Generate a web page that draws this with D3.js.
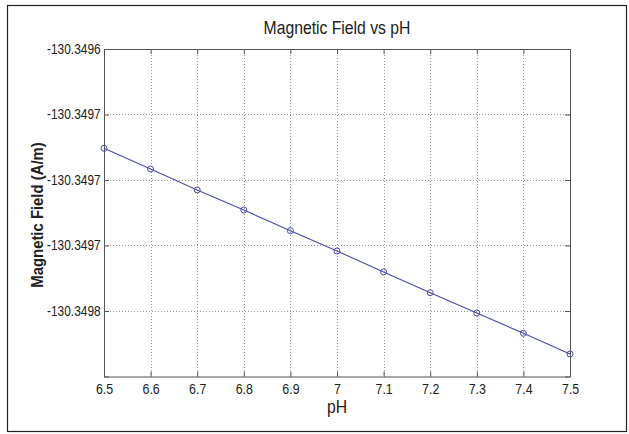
<!DOCTYPE html>
<html>
<head>
<meta charset="utf-8">
<script src="https://cdn.jsdelivr.net/npm/d3@7/dist/d3.min.js"></script>
<style>
  html, body { margin: 0; padding: 0; background: #fff; }
  svg { display: block; font-family: "Liberation Sans", Arial, sans-serif; }
</style>
</head>
<body>
<svg id="chart" width="629" height="434"></svg>
<script>
// pH sweep and the corresponding magnetic field (A/m)
const phValues = [6.5, 6.6, 6.7, 6.8, 6.9, 7.0, 7.1, 7.2, 7.3, 7.4, 7.5];
const fieldValues = [
  -130.3496758, -130.3496916, -130.3497076, -130.3497229, -130.3497387,
  -130.3497542, -130.3497702, -130.3497860, -130.3498015, -130.3498170,
  -130.3498328
];
const xTickValues = [6.5, 6.6, 6.7, 6.8, 6.9, 7.0, 7.1, 7.2, 7.3, 7.4, 7.5];
const xTickLabels = ["6.5", "6.6", "6.7", "6.8", "6.9", "7", "7.1", "7.2", "7.3", "7.4", "7.5"];
const yTickValues = [-130.34960, -130.34965, -130.34970, -130.34975, -130.34980, -130.34985];
const yTickLabels = ["-130.3496", "-130.3497", "-130.3497", "-130.3497", "-130.3498", ""];
const xDomain = [6.5, 7.5];
const yDomain = [-130.34985, -130.34960];

const svg = d3.select("#chart");
const W = 629, H = 434;
const plot = { left: 104, right: 570, top: 49, bottom: 376.5 };

svg.append("rect").attr("width", W).attr("height", H).attr("fill", "#fff");

// figure frame
svg.append("rect")
  .attr("x", 7.5).attr("y", 5.5).attr("width", 619).attr("height", 426)
  .attr("fill", "none").attr("stroke", "#222").attr("stroke-width", 1.2);

const x = d3.scaleLinear().domain(xDomain).range([plot.left, plot.right]);
const y = d3.scaleLinear().domain(yDomain).range([plot.bottom, plot.top]);

const gridColor = "#9a9a9a";
const axisColor = "#555";
const textColor = "#222";

// dotted grid
const grid = svg.append("g");
grid.selectAll(".gx").data(xTickValues.slice(1, -1)).join("line")
  .attr("x1", d => Math.round(x(d)) + 0.5).attr("x2", d => Math.round(x(d)) + 0.5)
  .attr("y1", plot.top).attr("y2", plot.bottom)
  .attr("stroke", gridColor).attr("stroke-width", 1).attr("stroke-dasharray", "1,2");
grid.selectAll(".gy").data(yTickValues.slice(1, -1)).join("line")
  .attr("y1", d => Math.round(y(d)) + 0.5).attr("y2", d => Math.round(y(d)) + 0.5)
  .attr("x1", plot.left).attr("x2", plot.right)
  .attr("stroke", gridColor).attr("stroke-width", 1).attr("stroke-dasharray", "1,2");

// axes with inward ticks (bottom/left labelled, top/right mirrored)
const fmtX = d => xTickLabels[xTickValues.indexOf(d)];
const fmtY = d => yTickLabels[yTickValues.indexOf(d)];

// condensed tick lettering
function styleAxis(size, squeeze) {
  return g => {
    g.select(".domain").attr("stroke", axisColor).attr("fill", "none");
    g.selectAll(".tick line").attr("stroke", axisColor);
    g.selectAll(".tick text").attr("fill", textColor).attr("font-size", size)
      .attr("transform", `scale(${squeeze},1)`);
  };
}

svg.append("g").attr("transform", `translate(0,${plot.bottom})`)
  .call(d3.axisBottom(x).tickValues(xTickValues).tickFormat(fmtX).tickSizeInner(-5).tickSizeOuter(0).tickPadding(7))
  .call(styleAxis(15.5, 0.8));
svg.append("g").attr("transform", `translate(0,${plot.top})`)
  .call(d3.axisTop(x).tickValues(xTickValues).tickFormat("").tickSizeInner(-5).tickSizeOuter(0))
  .call(styleAxis(14, 1));
svg.append("g").attr("transform", `translate(${plot.left},0)`)
  .call(d3.axisLeft(y).tickValues(yTickValues).tickFormat(fmtY).tickSizeInner(-5).tickSizeOuter(0).tickPadding(4))
  .call(styleAxis(14, 0.85));
svg.append("g").attr("transform", `translate(${plot.right},0)`)
  .call(d3.axisRight(y).tickValues(yTickValues).tickFormat("").tickSizeInner(-5).tickSizeOuter(0))
  .call(styleAxis(14, 1));

// data line and markers
const lineColor = "#4b4bb0";
const pts = phValues.map((p, i) => [p, fieldValues[i]]);
svg.append("path")
  .datum(pts)
  .attr("fill", "none").attr("stroke", lineColor).attr("stroke-width", 1.1)
  .attr("d", d3.line().x(d => x(d[0])).y(d => y(d[1])));
svg.append("g").selectAll("circle").data(pts).join("circle")
  .attr("cx", d => x(d[0])).attr("cy", d => y(d[1])).attr("r", 3)
  .attr("fill", "none").attr("stroke", lineColor).attr("stroke-width", 1);

// title and axis labels
const cx = (plot.left + plot.right) / 2;
svg.append("text")
  .attr("transform", `translate(${cx},34) scale(0.9,1)`)
  .attr("text-anchor", "middle").attr("font-size", 17.5).attr("fill", textColor)
  .text("Magnetic Field vs pH");
svg.append("text")
  .attr("transform", `translate(${cx},413) scale(0.9,1)`)
  .attr("text-anchor", "middle").attr("font-size", 17.5).attr("fill", textColor)
  .text("pH");
svg.append("text")
  .attr("transform", `translate(43,215) rotate(-90) scale(0.93,1)`)
  .attr("text-anchor", "middle").attr("font-size", 16).attr("font-weight", "bold").attr("fill", textColor)
  .text("Magnetic Field (A/m)");
</script>
</body>
</html>
